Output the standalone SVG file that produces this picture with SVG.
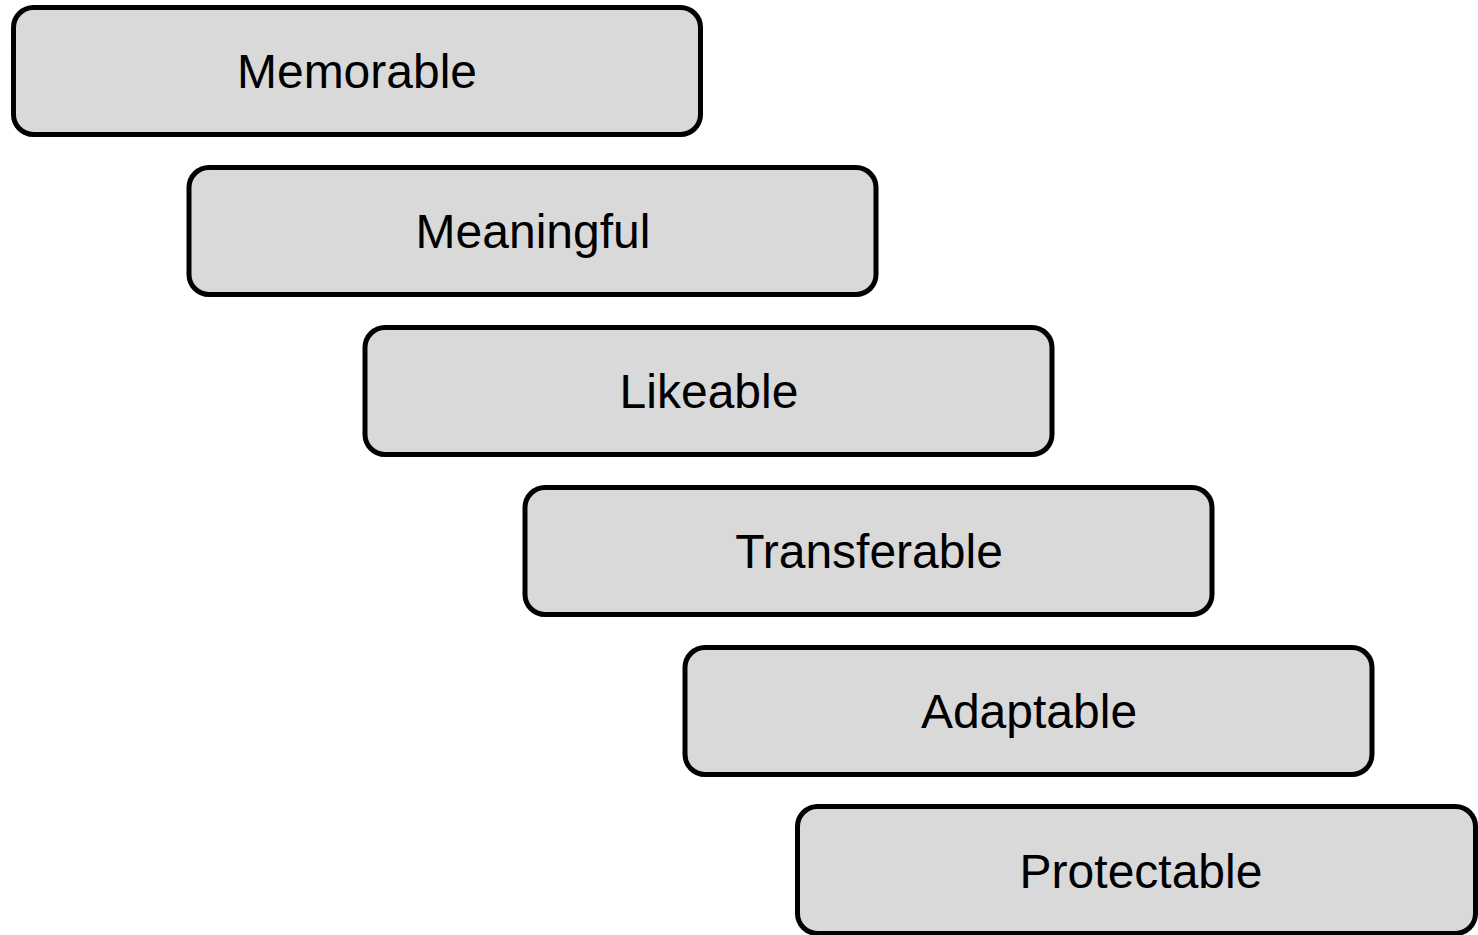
<svg xmlns="http://www.w3.org/2000/svg" width="1478" height="935" viewBox="0 0 1478 935">
<style>
.box{fill:#d9d9d9;stroke:#000;stroke-width:5}
.lbl{font-family:"Liberation Sans",Arial,sans-serif;font-size:48px;fill:#000;text-anchor:middle}
</style>
<rect width="1478" height="935" fill="#fff"/>
<g id="node-memorable"><rect class="box" x="13.5" y="7.5" width="687" height="127" rx="20"/><text class="lbl" x="357" y="88">Memorable</text></g>
<g id="node-meaningful"><rect class="box" x="189" y="167.5" width="687" height="127" rx="20"/><text class="lbl" x="533" y="248">Meaningful</text></g>
<g id="node-likeable"><rect class="box" x="365" y="327.5" width="687" height="127" rx="20"/><text class="lbl" x="709" y="408">Likeable</text></g>
<g id="node-transferable"><rect class="box" x="525" y="487.5" width="687" height="127" rx="20"/><text class="lbl" x="869" y="568">Transferable</text></g>
<g id="node-adaptable"><rect class="box" x="685" y="647.5" width="687" height="127" rx="20"/><text class="lbl" x="1029" y="728">Adaptable</text></g>
<g id="node-protectable"><rect class="box" x="797.5" y="806.5" width="678" height="127" rx="20"/><text class="lbl" x="1141" y="888">Protectable</text></g>
<g id="connectors"></g>
</svg>
